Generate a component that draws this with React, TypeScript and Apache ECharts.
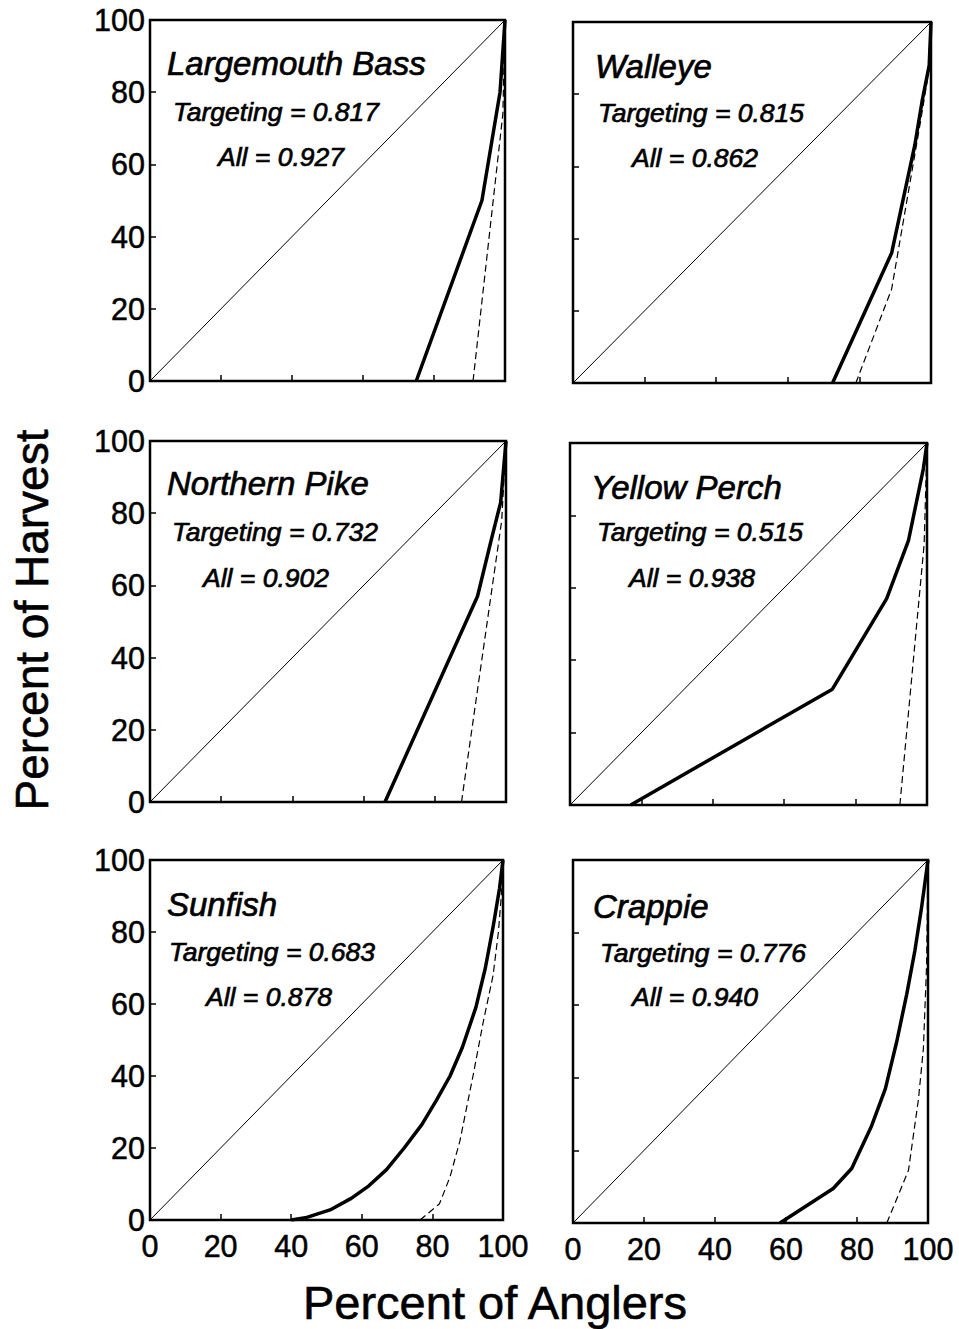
import React, { useEffect, useRef } from "react";
import * as echarts from "echarts";

// ---------- data (percent of anglers, percent of harvest) ----------
const species = ["Largemouth Bass", "Walleye", "Northern Pike", "Yellow Perch", "Sunfish", "Crappie"];
const targetingGini = ["0.817", "0.815", "0.732", "0.515", "0.683", "0.776"];
const allGini = ["0.927", "0.862", "0.902", "0.938", "0.878", "0.940"];
const axisTicks = [0, 20, 40, 60, 80, 100];
const equalityLine = [[0, 0], [100, 100]];

const bassTargeting = [[75, 0], [93.5, 50], [98.6, 80], [100, 100]];
const bassAll = [[91, 0], [99.4, 74], [100, 100]];

const walleyeTargeting = [[72.5, 0], [89, 36], [95.5, 66], [97.5, 78], [99.5, 88], [100, 100]];
const walleyeAll = [[79, 0], [89, 26], [97, 72], [99, 84], [100, 100]];

const pikeTargeting = [[66, 0], [92, 57], [95.7, 72], [98.5, 83], [100, 100]];
const pikeAll = [[87.5, 0], [98.8, 78], [100, 100]];

const perchTargeting = [[17, 0], [73.5, 32], [88.7, 57], [94.8, 73], [99, 93], [100, 100]];
const perchAll = [[92.4, 0], [99.2, 72], [100, 100]];

const sunfishTargeting = [
  [40, 0], [44, 0.6], [51, 2.8], [57, 6], [62, 9.5], [67, 14], [72, 20], [77, 26.5],
  [81, 33], [85, 40], [88.5, 48], [92.3, 59], [95, 70], [97.3, 82], [99, 92], [100, 100],
];
const sunfishAll = [
  [76.5, 0], [82, 4.5], [85, 12], [87.8, 22], [91.5, 40], [94.4, 55], [97.2, 68], [98.7, 80], [99.6, 91], [100, 100],
];

const crappieTargeting = [
  [58.3, 0], [73.3, 9.5], [78.5, 15], [84, 26.5], [88, 37], [91.2, 50], [94, 63], [96.3, 75], [98.2, 87], [100, 100],
];
const crappieAll = [[88.4, 0], [94.5, 14.5], [97.3, 34], [98.7, 48], [99.6, 71], [100, 100]];

const targetingSeries = [bassTargeting, walleyeTargeting, pikeTargeting, perchTargeting, sunfishTargeting, crappieTargeting];
const allSeries = [bassAll, walleyeAll, pikeAll, perchAll, sunfishAll, crappieAll];

// ---------- layout ----------
const gridBoxes = [
  { left: 150, top: 20, width: 355, height: 361 },
  { left: 573, top: 22, width: 358, height: 361 },
  { left: 150, top: 441, width: 356, height: 361 },
  { left: 570, top: 443, width: 357, height: 362 },
  { left: 150, top: 860, width: 353, height: 360 },
  { left: 573, top: 860, width: 355, height: 363 },
];
const textSpots = [
  { t: [167, 63], g: [173, 112], a: [218, 157] },
  { t: [595, 66], g: [598, 113], a: [632, 158] },
  { t: [167, 483], g: [172, 532], a: [203, 578] },
  { t: [591, 487], g: [597, 532], a: [629, 578] },
  { t: [167, 904], g: [169, 952], a: [206, 997] },
  { t: [593, 906], g: [600, 953], a: [632, 997] },
];

const FONT = "'Liberation Sans', Arial, Helvetica, sans-serif";

function buildOption() {
  const grid = gridBoxes.map((b) => ({
    ...b,
    show: true,
    borderColor: "#000",
    borderWidth: 2.5,
    backgroundColor: "transparent",
  }));
  const common = (i: number, showLabel: boolean, margin: number) => ({
    type: "value",
    gridIndex: i,
    min: axisTicks[0],
    max: axisTicks[axisTicks.length - 1],
    interval: axisTicks[1] - axisTicks[0],
    axisLine: { show: false },
    splitLine: { show: false },
    axisTick: { show: true, inside: true, length: 6, lineStyle: { color: "#000", width: 1.5 } },
    axisLabel: {
      show: showLabel, fontSize: 30.5, color: "#000", fontFamily: FONT, margin,
      textBorderColor: "#000", textBorderWidth: 0.5,
    },
  });
  const xAxis = gridBoxes.map((_, i) => common(i, i >= 4, 10));
  const yAxis = gridBoxes.map((_, i) => common(i, i % 2 === 0, 5));

  const series: any[] = [];
  gridBoxes.forEach((_, i) => {
    series.push({
      type: "line", xAxisIndex: i, yAxisIndex: i, data: equalityLine, symbol: "none",
      lineStyle: { color: "#000", width: 1 }, silent: true,
    });
    series.push({
      type: "line", xAxisIndex: i, yAxisIndex: i, data: allSeries[i], symbol: "none",
      lineStyle: { color: "#000", width: 1.2, type: [7, 4] }, silent: true,
    });
    series.push({
      type: "line", xAxisIndex: i, yAxisIndex: i, data: targetingSeries[i], symbol: "none",
      lineStyle: { color: "#000", width: 3.5, join: "round" }, silent: true,
    });
  });

  const textStyle = (text: string, size: number) => ({
    text, font: `italic ${size}px ${FONT}`, fill: "#000", stroke: "#000", lineWidth: 0.7,
    verticalAlign: "middle", align: "left",
  });
  const graphic: any[] = [];
  textSpots.forEach((p, i) => {
    graphic.push({ type: "text", x: p.t[0], y: p.t[1], style: textStyle(species[i], 33) });
    graphic.push({ type: "text", x: p.g[0], y: p.g[1], style: textStyle(`Targeting = ${targetingGini[i]}`, 26.5) });
    graphic.push({ type: "text", x: p.a[0], y: p.a[1], style: textStyle(`All = ${allGini[i]}`, 26.5) });
  });
  graphic.push({
    type: "text", x: 32, y: 620, rotation: Math.PI / 2,
    style: { text: "Percent of Harvest", font: `46px ${FONT}`, fill: "#000", stroke: "#000", lineWidth: 0.6, verticalAlign: "middle", align: "center" },
  });
  graphic.push({
    type: "text", x: 495, y: 1302,
    style: { text: "Percent of Anglers", font: `47px ${FONT}`, fill: "#000", stroke: "#000", lineWidth: 0.6, verticalAlign: "middle", align: "center" },
  });

  return {
    animation: false,
    backgroundColor: "#fff",
    grid,
    xAxis,
    yAxis,
    series,
    graphic,
  };
}

export default function App() {
  const ref = useRef<HTMLDivElement>(null);
  useEffect(() => {
    document.body.style.margin = "0";
    const chart = echarts.init(ref.current!, null, { renderer: "svg" });
    chart.setOption(buildOption() as any);
    return () => chart.dispose();
  }, []);
  return <div ref={ref} style={{ width: 959, height: 1329 }} />;
}
